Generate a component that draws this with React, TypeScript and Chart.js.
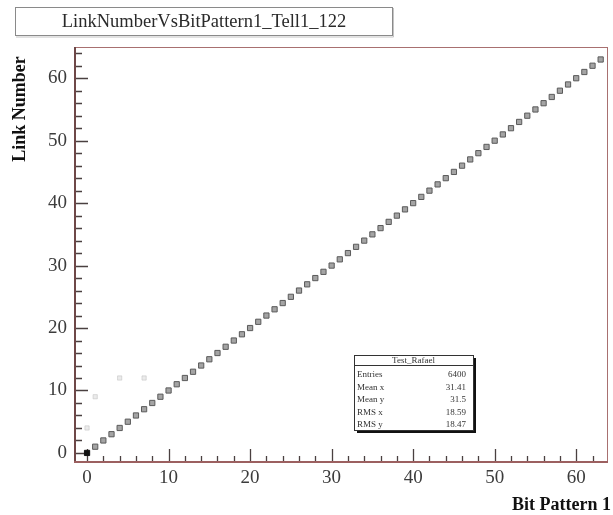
import React, { useEffect, useRef } from 'react';
import { Chart, registerables } from 'chart.js';
Chart.register(...registerables);

const titleText = 'LinkNumberVsBitPattern1_Tell1_122';
const xTitle = 'Bit Pattern 1';
const yTitle = 'Link Number';

const bitPattern = [0, 1, 2, 3, 4, 5, 6, 7, 8, 9, 10, 11, 12, 13, 14, 15, 16, 17, 18, 19, 20, 21, 22, 23, 24, 25, 26, 27, 28, 29, 30, 31, 32, 33, 34, 35, 36, 37, 38, 39, 40, 41, 42, 43, 44, 45, 46, 47, 48, 49, 50, 51, 52, 53, 54, 55, 56, 57, 58, 59, 60, 61, 62, 63];
const linkNumber = [0, 1, 2, 3, 4, 5, 6, 7, 8, 9, 10, 11, 12, 13, 14, 15, 16, 17, 18, 19, 20, 21, 22, 23, 24, 25, 26, 27, 28, 29, 30, 31, 32, 33, 34, 35, 36, 37, 38, 39, 40, 41, 42, 43, 44, 45, 46, 47, 48, 49, 50, 51, 52, 53, 54, 55, 56, 57, 58, 59, 60, 61, 62, 63];
const strayX = [0, 1, 4, 7];
const strayY = [4, 9, 12, 12];

const majorTicks = [0, 10, 20, 30, 40, 50, 60];
const minorStep = 2;

const statsTitle = 'Test_Rafael';
const statsLabels = ['Entries', 'Mean x', 'Mean y', 'RMS x', 'RMS y'];
const statsValues = ['6400', '31.41', '31.5', '18.59', '18.47'];

const X_MIN = -1.6, X_MAX = 63.9, Y_MIN = -1.45, Y_MAX = 65;
const SERIF = '"Liberation Serif", "DejaVu Serif", serif';

const decorPlugin = {
  id: 'decor',
  beforeDraw(chart: any) {
    const ctx = chart.ctx;
    ctx.save();
    ctx.fillStyle = '#ffffff';
    ctx.fillRect(0, 0, chart.width, chart.height);
    // title box
    ctx.fillStyle = '#ffffff';
    ctx.fillRect(15, 7, 377, 28);
    ctx.strokeStyle = '#8a8a8a';
    ctx.lineWidth = 1;
    ctx.strokeRect(15.5, 7.5, 377, 28);
    ctx.strokeStyle = '#c4c4c4';
    ctx.beginPath();
    ctx.moveTo(16, 37); ctx.lineTo(393.5, 37); ctx.lineTo(393.5, 8);
    ctx.stroke();
    ctx.fillStyle = '#2a2a2a';
    ctx.font = `18.5px ${SERIF}`;
    ctx.textAlign = 'center';
    ctx.textBaseline = 'middle';
    ctx.fillText(titleText, 204, 22);
    // axis titles
    ctx.font = `bold 18px ${SERIF}`;
    ctx.fillStyle = '#111';
    ctx.textAlign = 'right';
    ctx.fillText(xTitle, 611, 505);
    ctx.save();
    ctx.translate(20, 109);
    ctx.rotate(-Math.PI / 2);
    ctx.textAlign = 'center';
    ctx.fillText(yTitle, 0, 0);
    ctx.restore();
    ctx.restore();
  },
  beforeDatasetsDraw(chart: any) {
    const { ctx, chartArea: a, scales } = chart;
    const xs = scales.x, ys = scales.y;
    ctx.save();
    // frame
    ctx.strokeStyle = '#a87070';
    ctx.lineWidth = 1;
    ctx.strokeRect(a.left + 0.5, a.top + 0.5, a.right - a.left - 1, a.bottom - a.top - 1);
    // ticks
    ctx.strokeStyle = '#4a4040';
    ctx.lineWidth = 1.3;
    ctx.beginPath();
    for (let v = Math.ceil(X_MIN / minorStep) * minorStep; v <= X_MAX; v += minorStep) {
      const px = Math.round(xs.getPixelForValue(v)) + 0.5;
      const len = majorTicks.includes(v) ? 13 : 6;
      ctx.moveTo(px, a.bottom);
      ctx.lineTo(px, a.bottom - len);
    }
    for (let v = Math.ceil(Y_MIN / minorStep) * minorStep; v <= Y_MAX; v += minorStep) {
      const py = Math.round(ys.getPixelForValue(v)) + 0.5;
      const len = majorTicks.includes(v) ? 14 : 8;
      ctx.moveTo(a.left, py);
      ctx.lineTo(a.left + len, py);
    }
    ctx.stroke();
    // axis lines
    ctx.lineWidth = 2;
    ctx.strokeStyle = '#6e4848';
    ctx.beginPath();
    ctx.moveTo(a.left + 1, a.top);
    ctx.lineTo(a.left + 1, a.bottom);
    ctx.stroke();
    ctx.strokeStyle = '#9c6060';
    ctx.beginPath();
    ctx.moveTo(a.left, a.bottom);
    ctx.lineTo(a.right, a.bottom);
    ctx.stroke();
    ctx.restore();
  },
  afterDatasetsDraw(chart: any) {
    const ctx = chart.ctx;
    ctx.save();
    const L = 354, T = 355, W = 119, H = 75;
    // shadow
    ctx.fillStyle = '#111';
    ctx.fillRect(L + 3, T + 3, W, H);
    ctx.fillStyle = '#fff';
    ctx.fillRect(L, T, W, H);
    ctx.strokeStyle = '#333';
    ctx.lineWidth = 1;
    ctx.strokeRect(L + 0.5, T + 0.5, W, H);
    ctx.beginPath();
    ctx.moveTo(L, T + 10.5);
    ctx.lineTo(L + W, T + 10.5);
    ctx.stroke();
    ctx.fillStyle = '#333';
    ctx.font = `9px ${SERIF}`;
    ctx.textBaseline = 'middle';
    ctx.textAlign = 'center';
    ctx.fillText(statsTitle, L + W / 2, T + 5.5);
    statsLabels.forEach((lab, i) => {
      const y = T + 20 + i * 12.4;
      ctx.textAlign = 'left';
      ctx.fillText(lab, L + 3, y);
      ctx.textAlign = 'right';
      ctx.fillText(statsValues[i], L + W - 7, y);
    });
    ctx.restore();
  },
};

export default function App() {
  const ref = useRef<HTMLCanvasElement>(null);
  useEffect(() => {
    if (!ref.current) return;
    const chart = new Chart(ref.current, {
      type: 'scatter',
      data: {
        datasets: [
          {
            data: strayX.map((x, i) => ({ x, y: strayY[i] })),
            pointStyle: 'rect',
            pointRadius: 3,
            backgroundColor: 'rgba(215,215,215,0.5)',
            borderColor: 'rgba(190,190,190,0.5)',
            borderWidth: 1,
          },
          {
            data: bitPattern.map((x, i) => ({ x, y: linkNumber[i] })),
            pointStyle: 'rect',
            pointRadius: 3.7,
            backgroundColor: (c: any) => (c.dataIndex === 0 ? '#111' : '#a4a4a4'),
            borderColor: (c: any) => (c.dataIndex === 0 ? '#111' : '#5a5a5a'),
            borderWidth: 1,
          },
        ],
      },
      options: {
        animation: false,
        responsive: false,
        devicePixelRatio: 1,
        layout: { padding: { top: 47, right: 4, left: 0, bottom: 0 } },
        plugins: { legend: { display: false }, tooltip: { enabled: false }, title: { display: false } },
        scales: {
          x: {
            type: 'linear',
            min: X_MIN,
            max: X_MAX,
            afterBuildTicks: (s: any) => { s.ticks = majorTicks.map((v) => ({ value: v })); },
            afterFit: (s: any) => { s.height = 53; },
            grid: { display: false, drawTicks: false },
            border: { display: false },
            ticks: { color: '#3c3c3c', font: { family: SERIF, size: 19 }, padding: 5, maxRotation: 0, autoSkip: false },
          },
          y: {
            type: 'linear',
            min: Y_MIN,
            max: Y_MAX,
            afterBuildTicks: (s: any) => { s.ticks = majorTicks.map((v) => ({ value: v })); },
            afterFit: (s: any) => { s.width = 74; },
            grid: { display: false, drawTicks: false },
            border: { display: false },
            ticks: { color: '#3c3c3c', font: { family: SERIF, size: 19 }, padding: 7, autoSkip: false },
          },
        },
      },
      plugins: [decorPlugin],
    } as any);
    return () => chart.destroy();
  }, []);
  return (
    <div style={{ position: 'fixed', left: 0, top: 0, width: 613, height: 515, background: '#fff' }}>
      <canvas ref={ref} width={613} height={515} style={{ display: 'block' }} />
    </div>
  );
}
